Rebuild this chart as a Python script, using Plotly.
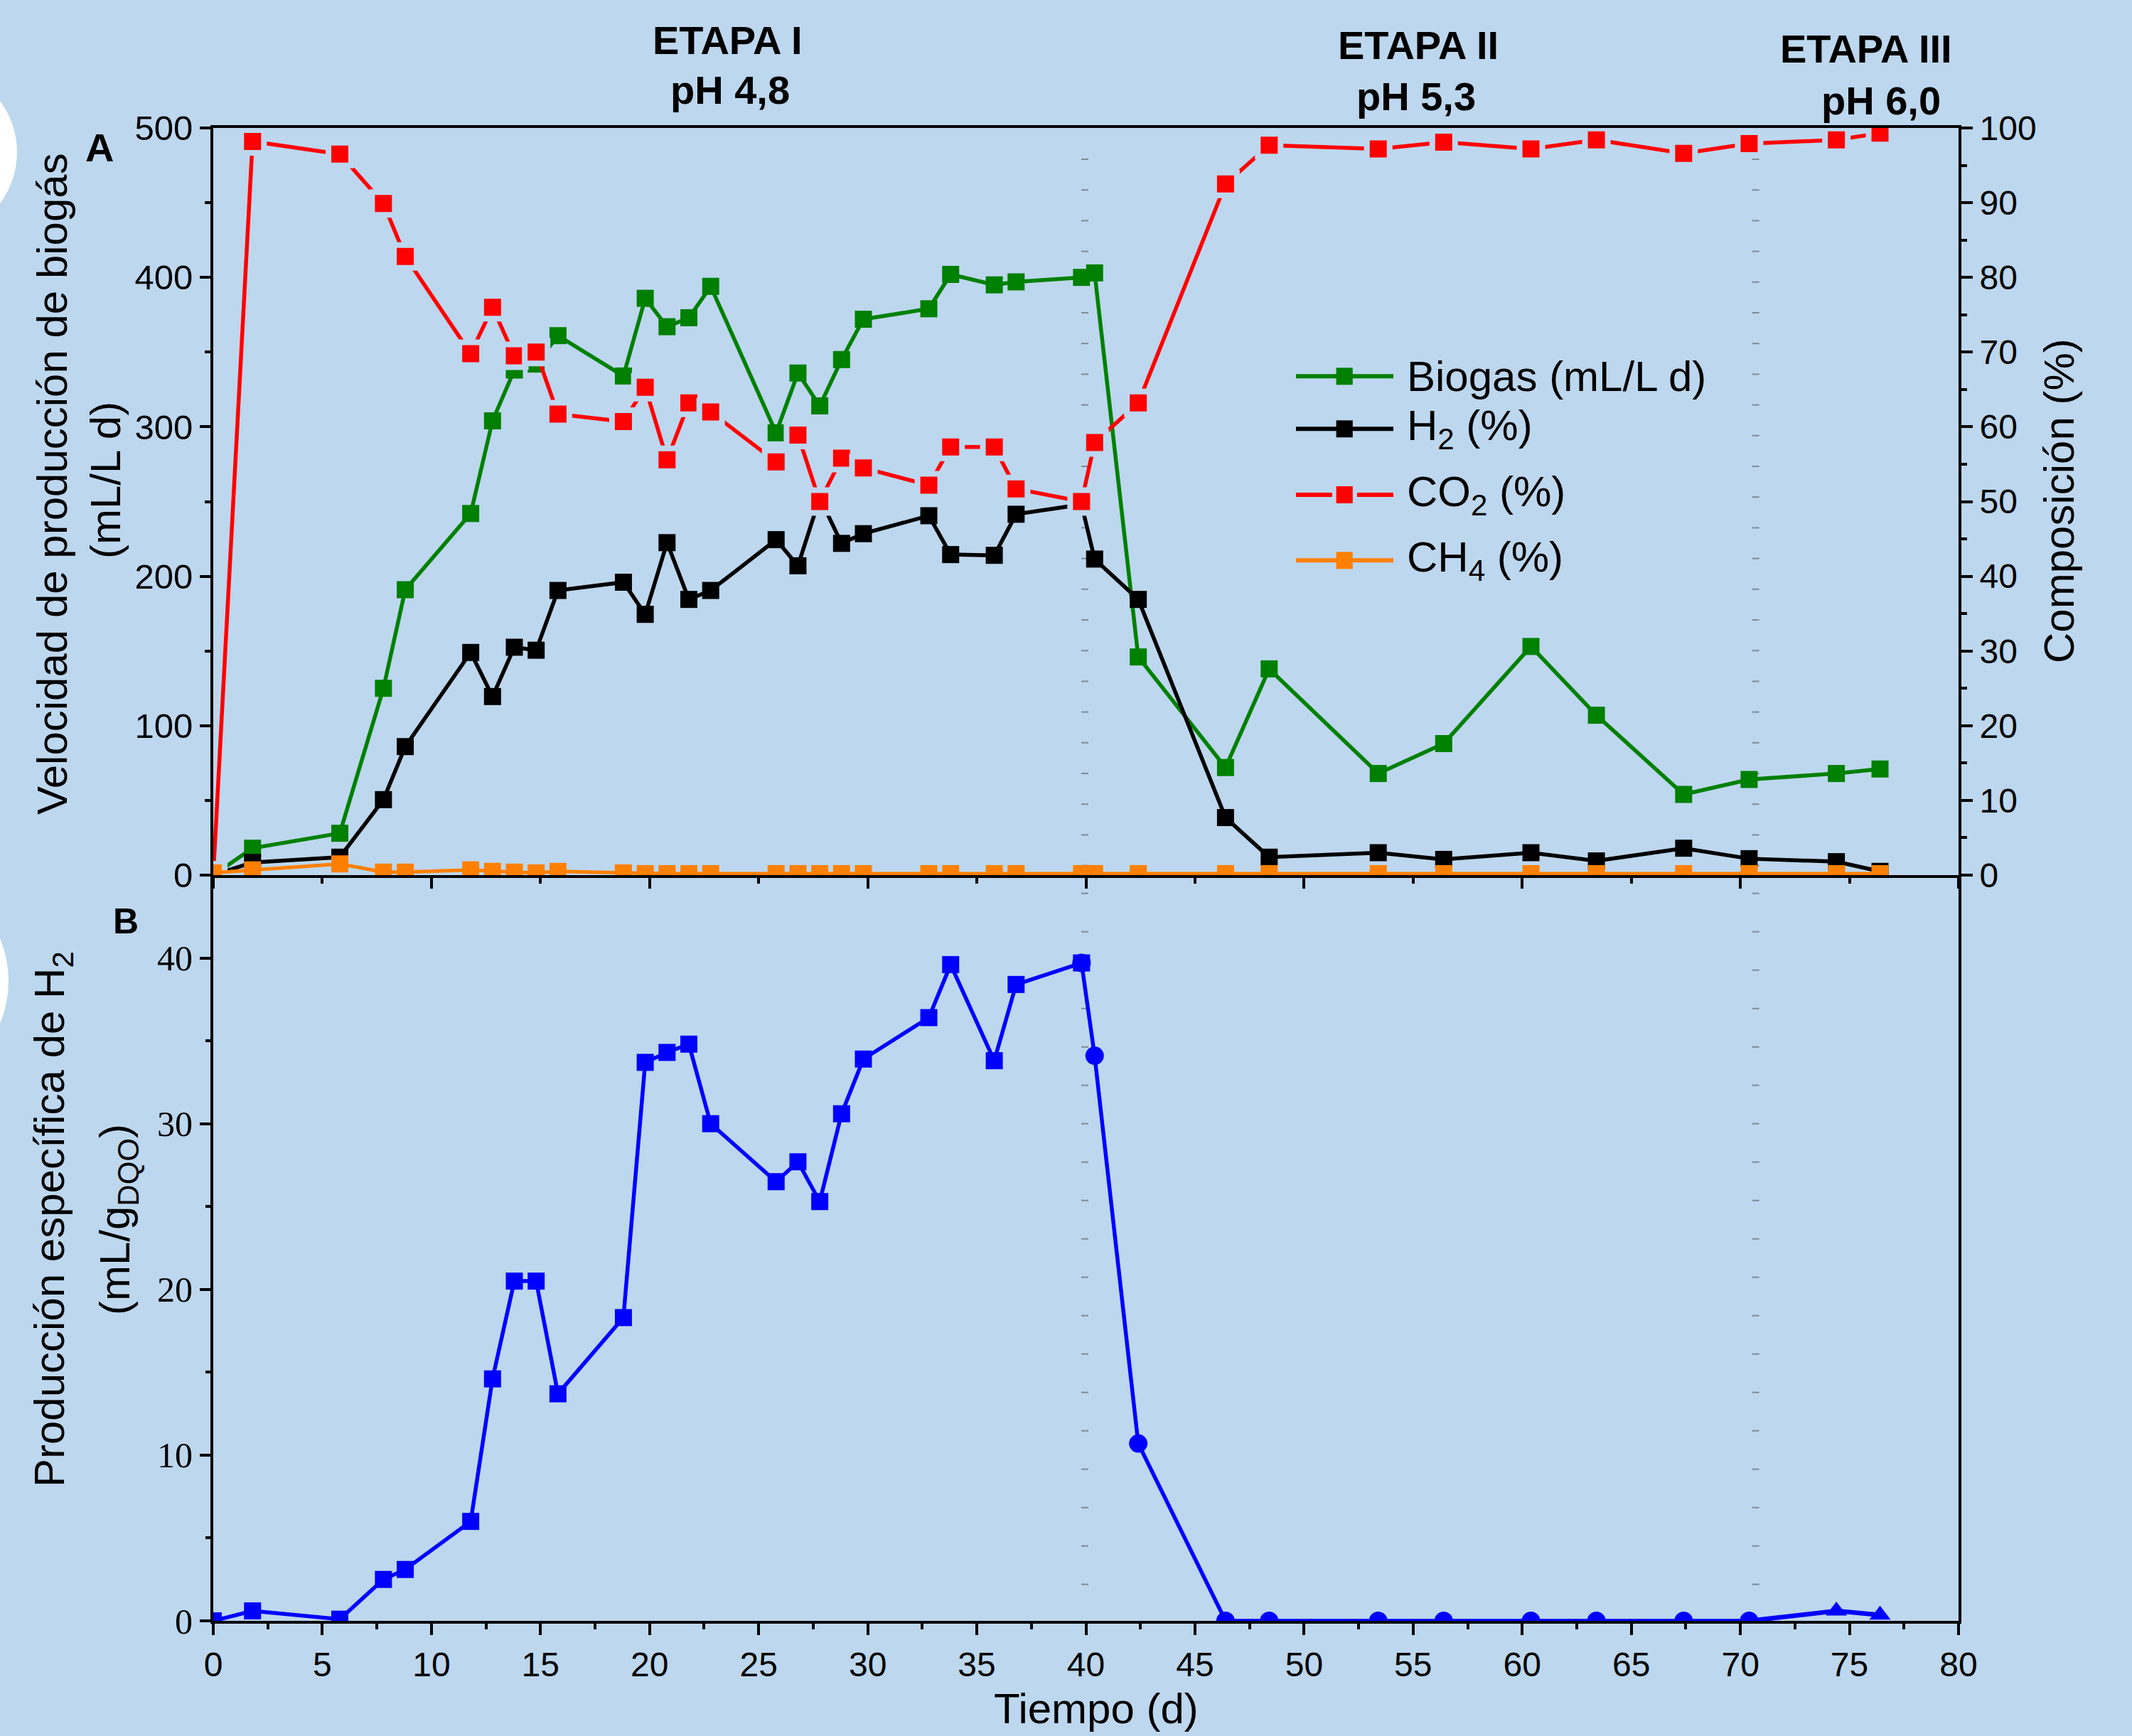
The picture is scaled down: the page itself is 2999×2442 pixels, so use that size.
import plotly.graph_objects as go

# ---------------- data ----------------
days = [0, 1.8, 5.8, 7.8, 8.8, 11.8, 12.8, 13.8, 14.8, 15.8, 18.8, 19.8, 20.8, 21.8, 22.8,
        25.8, 26.8, 27.8, 28.8, 29.8, 32.8, 33.8, 35.8, 36.8, 39.8, 40.4, 42.4, 46.4, 48.4,
        53.4, 56.4, 60.4, 63.4, 67.4, 70.4, 74.4, 76.4]
biogas = [0, 18, 28, 125, 191, 242, 304, 338, 342, 361, 334, 386, 367, 373, 394,
          296, 336, 314, 345, 372, 379, 402, 395, 397, 400, 403, 146, 72, 138,
          68, 88, 153, 107, 54, 64, 68, 71]
h2 = [0, 1.7, 2.4, 10.1, 17.2, 29.8, 23.9, 30.5, 30.1, 38.1, 39.2, 34.9, 44.5, 36.9, 38.1,
      44.9, 41.4, 50.5, 44.4, 45.7, 48.1, 42.9, 42.8, 48.3, 49.6, 42.3, 36.9, 7.7, 2.4,
      3.0, 2.1, 3.0, 1.9, 3.6, 2.2, 1.8, 0.5]
co2 = [0, 98.2, 96.5, 89.9, 82.8, 69.8, 76.0, 69.5, 70.0, 61.7, 60.7, 65.3, 55.6, 63.2, 62.0,
       55.3, 58.9, 50.0, 55.8, 54.5, 52.2, 57.3, 57.3, 51.7, 50.0, 57.9, 63.2, 92.5, 97.7,
       97.2, 98.1, 97.2, 98.4, 96.6, 97.9, 98.4, 99.3]
ch4 = [0.3, 0.7, 1.5, 0.4, 0.4, 0.7, 0.5, 0.4, 0.3, 0.5, 0.3, 0.2, 0.2, 0.2, 0.2,
       0.2, 0.2, 0.2, 0.2, 0.2, 0.2, 0.2, 0.2, 0.2, 0.2, 0.2, 0.2, 0.2, 0.2,
       0.2, 0.2, 0.2, 0.2, 0.2, 0.2, 0.2, 0.2]

# specific H2 production (panel B), three stages
sq_days = [0, 1.8, 5.8, 7.8, 8.8, 11.8, 12.8, 13.8, 14.8, 15.8, 18.8, 19.8, 20.8, 21.8, 22.8,
           25.8, 26.8, 27.8, 28.8, 29.8, 32.8, 33.8, 35.8, 36.8, 39.8]
sq_vals = [0, 0.6, 0.1, 2.5, 3.1, 6.0, 14.6, 20.5, 20.5, 13.7, 18.3, 33.7, 34.3, 34.8, 30.0,
           26.5, 27.7, 25.3, 30.6, 33.9, 36.4, 39.6, 33.8, 38.4, 39.7]
ci_days = [39.8, 40.4, 42.4, 46.4, 48.4, 53.4, 56.4, 60.4, 63.4, 67.4, 70.4]
ci_vals = [39.7, 34.1, 10.7, 0, 0, 0, 0, 0, 0, 0, 0]
tr_days = [70.4, 74.4, 76.4]
tr_vals = [0, 0.6, 0.35]

stage_lines = [39.95, 70.7]

# ---------------- geometry ----------------
W, H = 2999, 2442
L, R, T, B = 300, 244, 180, 162
PW, PH = W - L - R, H - T - B
BG = '#BDD7EE'
SANS = 'Liberation Sans'
SERIF = 'Liberation Serif'


def px(x):
    return (x - L) / PW


def py(y):
    return (H - B - y) / PH


split = py(1231)

GREEN, BLACK, RED, ORANGE, BLUE = '#008000', '#000000', '#FF0000', '#FF8000', '#0000FF'

fig = go.Figure()

fig.add_trace(go.Scatter(x=days, y=biogas, name='Biogas (mL/L d)', mode='lines+markers',
                         line=dict(color=GREEN, width=5.5),
                         marker=dict(symbol='square', size=24, color=GREEN),
                         xaxis='x', yaxis='y'))
fig.add_trace(go.Scatter(x=days, y=h2, name='H2 (%)', mode='lines+markers',
                         line=dict(color=BLACK, width=5.5),
                         marker=dict(symbol='square', size=24, color=BLACK),
                         xaxis='x', yaxis='y2'))
fig.add_trace(go.Scatter(x=days, y=co2, name='CO2 (%)', mode='lines+markers',
                         line=dict(color=RED, width=5.5),
                         marker=dict(symbol='square', size=32, color=RED,
                                     line=dict(color=BG, width=8)),
                         xaxis='x', yaxis='y2'))
fig.add_trace(go.Scatter(x=days, y=ch4, name='CH4 (%)', mode='lines+markers',
                         line=dict(color=ORANGE, width=5),
                         marker=dict(symbol='square', size=24, color=ORANGE),
                         xaxis='x', yaxis='y2'))

fig.add_trace(go.Scatter(x=sq_days, y=sq_vals, name='Etapa I', mode='lines+markers',
                         line=dict(color=BLUE, width=5.5),
                         marker=dict(symbol='square', size=24, color=BLUE),
                         xaxis='x2', yaxis='y3'))
fig.add_trace(go.Scatter(x=ci_days, y=ci_vals, name='Etapa II', mode='lines+markers',
                         line=dict(color=BLUE, width=5.5),
                         marker=dict(symbol='circle', size=26, color=BLUE),
                         xaxis='x2', yaxis='y3'))
fig.add_trace(go.Scatter(x=tr_days, y=tr_vals, name='Etapa III', mode='lines+markers',
                         line=dict(color=BLUE, width=6.5),
                         marker=dict(symbol='triangle-up', size=26, color=BLUE),
                         xaxis='x2', yaxis='y3'))

axis_common = dict(showgrid=False, zeroline=False, showline=True, linecolor='black',
                   linewidth=4, ticks='outside', tickcolor='black', tickwidth=4)

fig.update_layout(
    width=W, height=H,
    margin=dict(l=L, r=R, t=T, b=B),
    paper_bgcolor=BG, plot_bgcolor=BG,
    showlegend=False,
    font=dict(family=SANS, color='black', size=48),
    xaxis=dict(domain=[0, 1], anchor='y', range=[0, 80], tick0=0, dtick=10, ticklen=15,
               showticklabels=False, mirror=True,
               minor=dict(dtick=5, ticklen=8, tickwidth=4, tickcolor='black', ticks='outside'),
               **axis_common),
    yaxis=dict(domain=[split, 1], anchor='x', range=[0, 500], tick0=0, dtick=100, ticklen=15,
               tickfont=dict(family=SANS, size=49),
               minor=dict(dtick=50, ticklen=8, tickwidth=4, tickcolor='black', ticks='outside'),
               **axis_common),
    yaxis2=dict(overlaying='y', side='right', anchor='x', range=[0, 100], tick0=0, dtick=10,
                ticklen=16, tickfont=dict(family=SANS, size=48),
                minor=dict(dtick=5, ticklen=8, tickwidth=4, tickcolor='black', ticks='outside'),
                **axis_common),
    xaxis2=dict(domain=[0, 1], anchor='y3', range=[0, 80], tick0=0, dtick=5, ticklen=16,
                tickfont=dict(family=SANS, size=48),
                minor=dict(dtick=2.5, ticklen=8, tickwidth=4, tickcolor='black', ticks='outside'),
                **axis_common),
    yaxis3=dict(domain=[0, split], anchor='x2', range=[0, 45], tick0=0, dtick=10, ticklen=15,
                tickfont=dict(family=SERIF, size=50), mirror=True,
                minor=dict(dtick=5, ticklen=7, tickwidth=4, tickcolor='black', ticks='outside'),
                **axis_common),
)

shapes = []
# white decorative circles at left edge
shapes.append(dict(type='circle', xref='paper', yref='paper', x0=px(-216), x1=px(24),
                   y0=py(334), y1=py(94), fillcolor='white', line=dict(width=0), layer='below'))
shapes.append(dict(type='circle', xref='paper', yref='paper', x0=px(-300), x1=px(12),
                   y0=py(1536), y1=py(1224), fillcolor='white', line=dict(width=0), layer='below'))

# dotted stage separators (small horizontal dashes)
for xd in stage_lines:
    ys = [180.8 + 43.2 * k for k in range(1, 25)] + [1256.7 + 54 * k for k in range(0, 20)]
    for yp in ys:
        shapes.append(dict(type='line', xref='x', xsizemode='pixel', xanchor=xd, x0=-5, x1=5,
                           yref='paper', y0=py(yp), y1=py(yp),
                           line=dict(color='#7d8b99', width=2), layer='below'))

# manual legend
leg = [('Biogas (mL/L d)', GREEN, 529.3), ('H<sub>2</sub> (%)', BLACK, 603.3),
       ('CO<sub>2</sub> (%)', RED, 696.0), ('CH<sub>4</sub> (%)', ORANGE, 788.3)]
annotations = []
for text, col, yl in leg:
    if col == RED:
        shapes.append(dict(type='line', xref='paper', yref='paper', x0=px(1823), x1=px(1874),
                           y0=py(yl), y1=py(yl), line=dict(color=col, width=6)))
        shapes.append(dict(type='line', xref='paper', yref='paper', x0=px(1909), x1=px(1960),
                           y0=py(yl), y1=py(yl), line=dict(color=col, width=6)))
    else:
        shapes.append(dict(type='line', xref='paper', yref='paper', x0=px(1823), x1=px(1960),
                           y0=py(yl), y1=py(yl), line=dict(color=col, width=6)))
    shapes.append(dict(type='rect', xref='paper', yref='paper', x0=px(1879.6), x1=px(1902.8),
                       y0=py(yl + 12), y1=py(yl - 12), fillcolor=col, line=dict(width=0)))
    annotations.append(dict(text=text, xref='paper', yref='paper', x=px(1977), y=py(yl),
                            xanchor='left', yanchor='middle', showarrow=False,
                            font=dict(family=SANS, size=60, color='black')))


def ann(text, x, y, size=60, bold=False, angle=0, family=SANS, xa='center'):
    t = '<b>%s</b>' % text if bold else text
    annotations.append(dict(text=t, xref='paper', yref='paper', x=px(x), y=py(y),
                            xanchor=xa, yanchor='middle', showarrow=False, textangle=angle,
                            font=dict(family=family, size=size, color='black')))


ann('A', 140, 208, size=56, bold=True)
ann('B', 177, 1296, size=50, bold=True)
ann('ETAPA I', 1023, 56, size=56, bold=True)
ann('pH 4,8', 1027, 127, size=56, bold=True)
ann('ETAPA II', 1995, 64, size=56, bold=True)
ann('pH 5,3', 1992, 136, size=56, bold=True)
ann('ETAPA III', 2625, 69, size=56, bold=True)
ann('pH 6,0', 2646, 141, size=56, bold=True)

ann('Velocidad de producción de biogás', 73, 681, angle=-90)
ann('(mL/L d)', 148, 676, angle=-90)
ann('Producción específica de H<sub>2</sub>', 74, 1715, angle=-90)
ann('(mL/g<sub>DQO</sub>)', 166, 1716, angle=-90)
ann('Composición (%)', 2896, 705, angle=-90)
ann('Tiempo (d)', 1542, 2403)

fig.update_layout(shapes=shapes, annotations=annotations)

fig.write_html('out.html', config={'displayModeBar': False},
               post_script="document.body.style.margin='0';"
                           "document.body.style.background='%s';" % BG)
